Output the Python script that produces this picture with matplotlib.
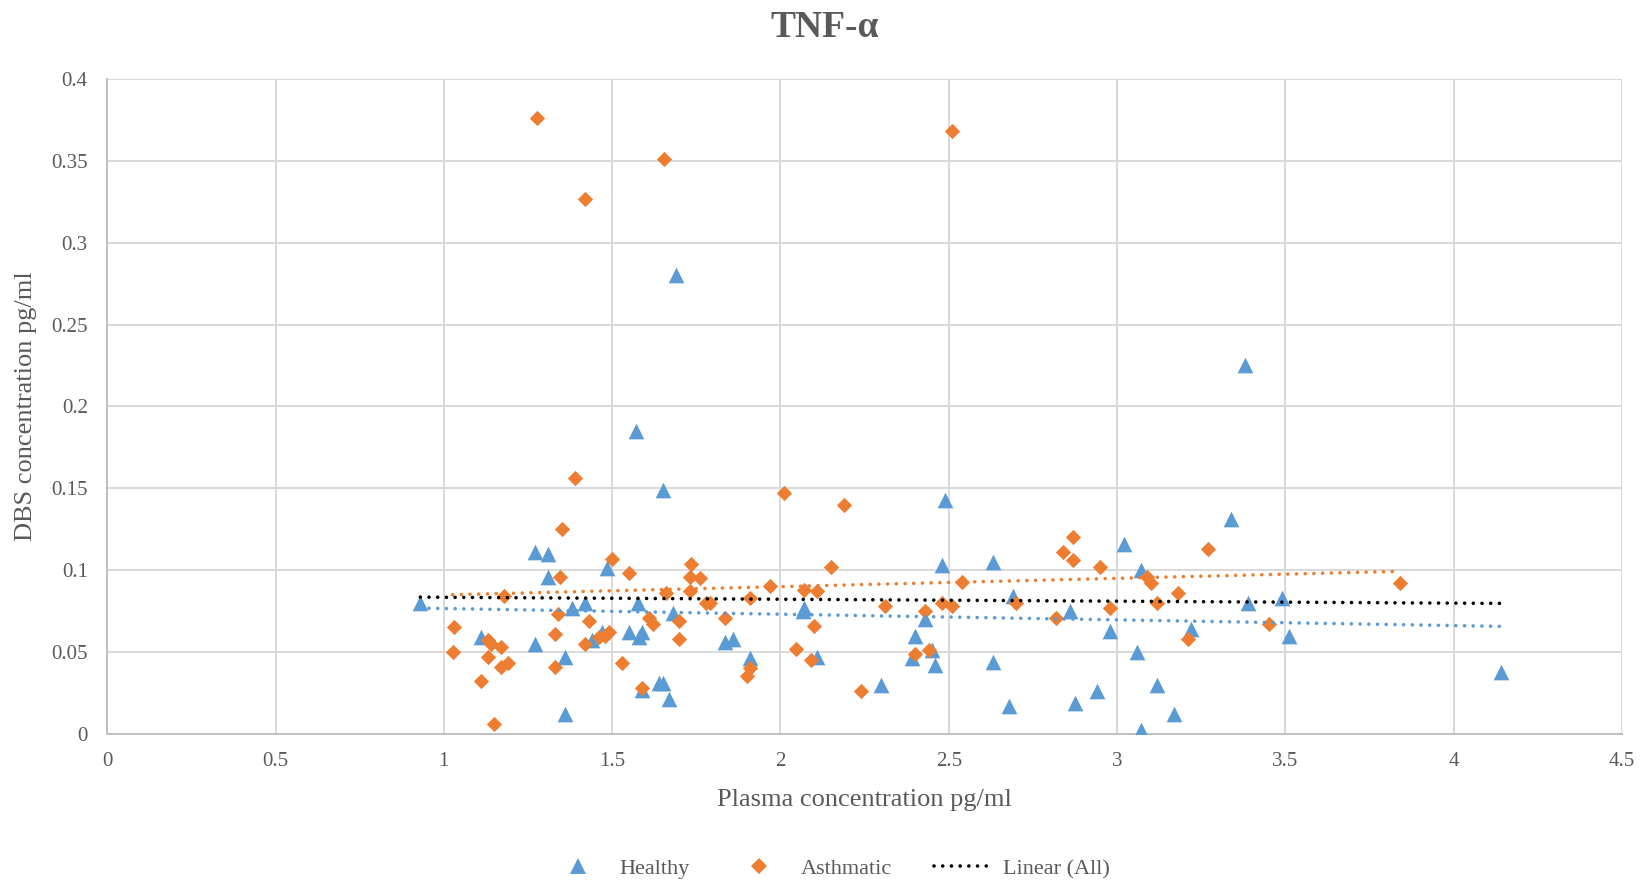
import numpy as np
import matplotlib
matplotlib.use("Agg")
import matplotlib.pyplot as plt
from matplotlib.lines import Line2D
from matplotlib.ticker import FuncFormatter, MultipleLocator

# ---------------- data ----------------
healthy_x = [0.93, 1.11, 1.27, 1.31, 1.31, 1.27, 1.36, 1.36, 1.38, 1.42,
             1.44, 1.485, 1.47, 1.55, 1.57, 1.576, 1.58, 1.59, 1.59, 1.64,
             1.65, 1.65, 1.67, 1.69, 1.68, 1.835, 1.86, 1.91, 2.067, 2.07,
             2.11, 2.30, 2.39, 2.40, 2.43, 2.45, 2.46, 2.48, 2.49, 2.63,
             2.63, 2.68, 2.69, 2.86, 2.876, 2.94, 2.98, 3.02, 3.06, 3.07,
             3.07, 3.12, 3.17, 3.22, 3.34, 3.38, 3.39, 3.49, 3.51, 4.14]
healthy_y = [0.080, 0.059, 0.111, 0.110, 0.096, 0.055, 0.047, 0.012, 0.077, 0.080,
             0.057, 0.101, 0.062, 0.062, 0.185, 0.080, 0.059, 0.062, 0.027, 0.031,
             0.031, 0.149, 0.021, 0.280, 0.074, 0.056, 0.058, 0.046, 0.075, 0.077,
             0.047, 0.030, 0.046, 0.060, 0.070, 0.051, 0.042, 0.103, 0.143, 0.105,
             0.044, 0.017, 0.084, 0.075, 0.019, 0.026, 0.063, 0.116, 0.050, 0.100,
             0.002, 0.030, 0.012, 0.064, 0.131, 0.225, 0.080, 0.083, 0.060, 0.038]

asthmatic_x = [1.03, 1.026, 1.11, 1.13, 1.13, 1.14, 1.15, 1.17, 1.17, 1.18,
               1.19, 1.276, 1.33, 1.33, 1.34, 1.345, 1.35, 1.39, 1.42, 1.42,
               1.43, 1.46, 1.48, 1.49, 1.50, 1.53, 1.55, 1.59, 1.61, 1.62,
               1.654, 1.66, 1.70, 1.70, 1.73, 1.735, 1.73, 1.76, 1.78, 1.79,
               1.835, 1.90, 1.91, 1.91, 1.97, 2.01, 2.045, 2.07, 2.10, 2.09,
               2.11, 2.15, 2.19, 2.24, 2.31, 2.40, 2.43, 2.44, 2.48, 2.51,
               2.51, 2.54, 2.70, 2.82, 2.84, 2.87, 2.87, 2.95, 2.98, 3.09,
               3.10, 3.12, 3.18, 3.21, 3.27, 3.45, 3.84]
asthmatic_y = [0.065, 0.050, 0.032, 0.057, 0.047, 0.055, 0.006, 0.041, 0.053, 0.084,
               0.043, 0.376, 0.061, 0.041, 0.073, 0.096, 0.125, 0.156, 0.327, 0.055,
               0.069, 0.059, 0.060, 0.062, 0.107, 0.043, 0.098, 0.028, 0.071, 0.067,
               0.351, 0.086, 0.058, 0.069, 0.096, 0.104, 0.087, 0.095, 0.080, 0.080,
               0.071, 0.035, 0.083, 0.040, 0.090, 0.147, 0.052, 0.088, 0.066, 0.045,
               0.087, 0.102, 0.140, 0.026, 0.078, 0.049, 0.075, 0.051, 0.080, 0.368,
               0.078, 0.093, 0.080, 0.071, 0.111, 0.120, 0.106, 0.102, 0.077, 0.096,
               0.092, 0.080, 0.086, 0.058, 0.113, 0.067, 0.092]

title = "TNF-α"
x_label = "Plasma concentration pg/ml"
y_label = "DBS concentration pg/ml"
legend_labels = ["Healthy", "Asthmatic", "Linear (All)"]

# ---------------- style ----------------
BLUE = "#5B9BD5"
ORANGE = "#ED7D31"
GREY_TXT = "#595959"
GRID = "#D9D9D9"
AXIS = "#BFBFBF"
FONT = ["Liberation Serif", "DejaVu Serif"]
plt.rcParams["font.family"] = FONT

fig = plt.figure(figsize=(16.5, 8.84), dpi=100)
ax = fig.add_axes([0.065, 0.170, 0.918, 0.7406])

ax.scatter(healthy_x, healthy_y, marker="^", s=11.3**2, color=BLUE,
           linewidths=0, zorder=3)
ax.scatter(asthmatic_x, asthmatic_y, marker="D", s=7.8**2, color=ORANGE,
           linewidths=0, zorder=3)

dot_style = dict(linestyle=(0, (0.01, 2.4)), dash_capstyle="round",
                 linewidth=2.6, zorder=4)


def trend(xs, ys, color):
    xs = np.asarray(xs)
    ys = np.asarray(ys)
    m, b = np.polyfit(xs, ys, 1)
    xx = np.array([xs.min(), xs.max()])
    ax.plot(xx, m * xx + b, color=color, **dot_style)


trend(healthy_x, healthy_y, BLUE)
trend(asthmatic_x, asthmatic_y, ORANGE)
trend(healthy_x + asthmatic_x, healthy_y + asthmatic_y, "black")

ax.set_xlim(0, 4.5)
ax.set_ylim(0, 0.4)
ax.xaxis.set_major_locator(MultipleLocator(0.5))
ax.yaxis.set_major_locator(MultipleLocator(0.05))
fmt = FuncFormatter(lambda v, p: f"{v:g}")
ax.xaxis.set_major_formatter(fmt)
ax.yaxis.set_major_formatter(fmt)

ax.grid(True, color=GRID, linewidth=1.4)
ax.set_axisbelow(True)
for s in ["right", "top"]:
    ax.spines[s].set_visible(False)
for s in ["bottom", "left"]:
    ax.spines[s].set_color(AXIS)
    ax.spines[s].set_linewidth(1.4)
ax.tick_params(length=0, labelsize=15, labelcolor=GREY_TXT)
ax.tick_params(axis="y", pad=14)
ax.tick_params(axis="x", pad=13)

ax.set_xlabel(x_label, fontsize=19, color=GREY_TXT, labelpad=13)
ax.set_ylabel(y_label, fontsize=19, color=GREY_TXT, labelpad=10)
fig.text(0.5, 0.969, title, ha="center", va="center", fontsize=27,
         fontweight="bold", color=GREY_TXT)

handles = [
    Line2D([], [], marker="^", linestyle="none", markersize=11.3,
           color=BLUE, markeredgewidth=0),
    Line2D([], [], marker="D", linestyle="none", markersize=7.8,
           color=ORANGE, markeredgewidth=0),
    Line2D([], [], color="black", **dot_style),
]
fig.legend(handles, legend_labels, loc="center", bbox_to_anchor=(0.503, 0.017),
           ncol=3, frameon=False, fontsize=16, labelcolor=GREY_TXT,
           handlelength=2.5, columnspacing=1.9, handletextpad=0.6)

fig.savefig("out.png", dpi=100)
